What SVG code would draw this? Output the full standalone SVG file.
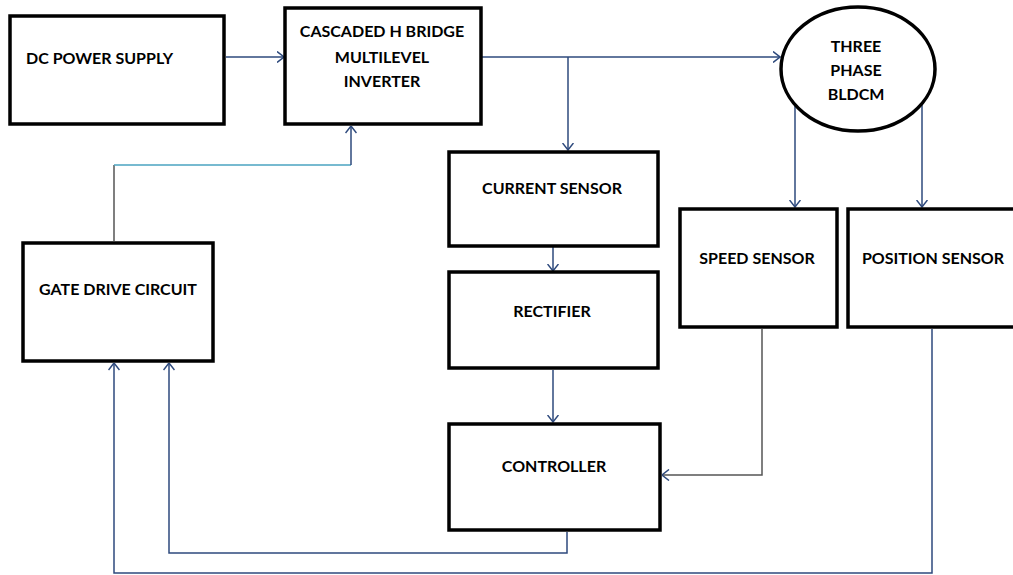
<svg xmlns="http://www.w3.org/2000/svg" width="1013" height="575" viewBox="0 0 1013 575">
<style>
.box{fill:#fff;stroke:#000;stroke-width:3.5}
.t{font-family:Lato,"Liberation Sans",sans-serif;font-weight:bold;font-size:16px;fill:#000;text-anchor:middle}
.c{fill:none;stroke:#2e4a7d;stroke-width:1.5}
.g{fill:none;stroke:#555;stroke-width:1.5}
.lb{fill:none;stroke:#4aa3c0;stroke-width:1.5}
</style>
<defs>
<marker id="ah" markerUnits="userSpaceOnUse" viewBox="0 0 8 12" refX="7.5" refY="6" markerWidth="8" markerHeight="12" orient="auto">
<path d="M0.5,0.5 L7.5,6 L0.5,11.5" fill="none" stroke="#2e4a7d" stroke-width="1.5"/>
</marker>
</defs>
<rect width="1013" height="575" fill="#fff"/>
<g id="connectors">
<path class="c" d="M226,57 H284" marker-end="url(#ah)"/>
<path class="c" d="M481,57 H780" marker-end="url(#ah)"/>
<path class="c" d="M568,57 V150" marker-end="url(#ah)"/>
<path class="c" d="M553,247 V271" marker-end="url(#ah)"/>
<path class="c" d="M553,370 V422" marker-end="url(#ah)"/>
<path class="c" d="M795,105 V207" marker-end="url(#ah)"/>
<path class="c" d="M922,105 V207" marker-end="url(#ah)"/>
<path class="g" d="M762,329 V475 H662" marker-end="url(#ah)"/>
<path class="c" d="M932,329 V573 H114 V363" marker-end="url(#ah)"/>
<path class="c" d="M567,532 V553 H169 V363" marker-end="url(#ah)"/>
<path class="g" d="M114,241 V165"/>
<path class="lb" d="M114,165 H351"/>
<path class="c" d="M351,165 V126" marker-end="url(#ah)"/>
</g>
<g id="dc">
<rect class="box" x="10" y="16" width="214" height="108"/>
<text class="t" x="26" y="64" style="text-anchor:start">DC POWER SUPPLY</text>
</g>
<g id="inverter">
<rect class="box" x="285" y="8" width="196" height="116"/>
<text class="t" x="382" y="37">CASCADED H BRIDGE</text>
<text class="t" x="382" y="63">MULTILEVEL</text>
<text class="t" x="382" y="87">INVERTER</text>
</g>
<g id="motor">
<ellipse class="box" cx="858" cy="69" rx="77" ry="62"/>
<text class="t" x="856" y="52">THREE</text>
<text class="t" x="856" y="76">PHASE</text>
<text class="t" x="856" y="100">BLDCM</text>
</g>
<g id="current">
<rect class="box" x="449" y="152" width="209" height="94"/>
<text class="t" x="552" y="194">CURRENT SENSOR</text>
</g>
<g id="rectifier">
<rect class="box" x="449" y="272" width="209" height="96"/>
<text class="t" x="552" y="317">RECTIFIER</text>
</g>
<g id="controller">
<rect class="box" x="449" y="424" width="211" height="106"/>
<text class="t" x="554" y="472">CONTROLLER</text>
</g>
<g id="speed">
<rect class="box" x="680" y="209" width="157" height="118"/>
<text class="t" x="757" y="264">SPEED SENSOR</text>
</g>
<g id="position">
<rect class="box" x="848" y="209" width="172" height="118"/>
<text class="t" x="933" y="264">POSITION SENSOR</text>
</g>
<g id="gate">
<rect class="box" x="23" y="243" width="190" height="118"/>
<text class="t" x="118" y="295">GATE DRIVE CIRCUIT</text>
</g>
</svg>
